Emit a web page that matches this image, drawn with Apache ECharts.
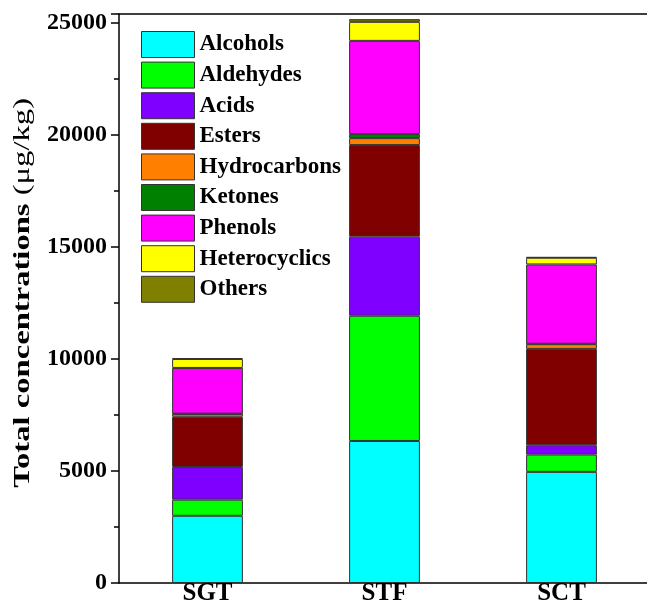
<!DOCTYPE html>
<html>
<head>
<meta charset="utf-8">
<script src="https://cdn.jsdelivr.net/npm/echarts@6/dist/echarts.min.js"></script>
<style>
  html, body { margin: 0; padding: 0; background: #fff; }
  #chart { width: 647px; height: 606px; }
</style>
</head>
<body>
<div id="chart"></div>
<script>
// Tea samples on the x axis
const categories = ['SGT', 'STF', 'SCT'];

// Volatile compound classes, stacked bottom to top (µg/kg)
const classNames = ['Alcohols', 'Aldehydes', 'Acids', 'Esters', 'Hydrocarbons',
                    'Ketones', 'Phenols', 'Heterocyclics', 'Others'];
const alcohols      = [3000, 6340, 4960];
const aldehydes     = [720, 5590, 770];
const acids         = [1460, 3530, 420];
const esters        = [2240, 4090, 4300];
const hydrocarbons  = [120, 310, 210];
const ketones       = [20, 180, 20];
const phenols       = [2040, 4160, 3540];
const heterocyclics = [400, 850, 300];
const others        = [40, 120, 30];

const yTicks = [0, 5000, 10000, 15000, 20000, 25000];

const classValues = [alcohols, aldehydes, acids, esters, hydrocarbons,
                     ketones, phenols, heterocyclics, others];
const classColors = ['#00FFFF', '#00FF00', '#8000FF', '#800000', '#FF8000',
                     '#008000', '#FF00FF', '#FFFF00', '#808000'];

const FONT = '"Liberation Serif", "Times New Roman", serif';

const chart = echarts.init(document.getElementById('chart'), null, { renderer: 'canvas' });

chart.setOption({
  backgroundColor: '#fff',
  animation: false,
  grid: {
    left: 119, right: -3, top: 14, bottom: 23,
    outerBoundsMode: 'none',
    containLabel: false,
    show: false
  },
  legend: {
    orient: 'vertical',
    left: 136, top: 26,
    itemWidth: 53, itemHeight: 26, itemGap: 3.6,
    icon: 'rect',
    itemStyle: { borderColor: '#333', borderWidth: 1 },
    textStyle: { fontFamily: FONT, fontWeight: 'bold', fontSize: 23, color: '#000', lineHeight: 26 },
    data: classNames
  },
  // y-axis title, stretched along its length
  graphic: [{
    type: 'text',
    left: 11,
    top: 98,
    rotation: Math.PI / 2,
    scaleX: 1.36,
    style: {
      text: '{b|Total concentrations }{n|(μg/kg)}',
      rich: {
        b: { fontFamily: FONT, fontWeight: 'bold', fontSize: 24, fill: '#000' },
        n: { fontFamily: FONT, fontWeight: 'normal', fontSize: 24, fill: '#000' }
      }
    }
  }],
  xAxis: [{
    type: 'category',
    data: categories,
    axisLine: { lineStyle: { color: '#000', width: 1.5 } },
    axisTick: { show: false },
    axisLabel: { fontFamily: FONT, fontWeight: 'bold', fontSize: 25, color: '#000', margin: 1, lineHeight: 20 }
  }, {
    // top frame line
    type: 'category',
    data: categories,
    position: 'top',
    axisLine: { show: true, lineStyle: { color: '#000', width: 1.5 } },
    axisTick: { show: false },
    axisLabel: { show: false }
  }],
  yAxis: {
    type: 'value',
    min: 0, max: 25400, interval: 5000,
    axisLine: { show: true, lineStyle: { color: '#000', width: 1.5 } },
    axisTick: { show: true, inside: false, length: 8, lineStyle: { color: '#000', width: 1.5 } },
    minorTick: { show: true, splitNumber: 2, length: 5, lineStyle: { color: '#000', width: 1.5 } },
    splitLine: { show: false },
    axisLabel: {
      fontFamily: FONT, fontWeight: 'bold', fontSize: 24, color: '#000', margin: 12,
      showMaxLabel: false,
      formatter: v => (yTicks.indexOf(v) >= 0 ? String(v) : '')
    }
  },
  series: classNames.map((name, i) => ({
    name: name,
    type: 'bar',
    stack: 'total',
    barWidth: '40%',
    data: classValues[i],
    itemStyle: { color: classColors[i], borderColor: '#333', borderWidth: 1 }
  }))
});
</script>
</body>
</html>
